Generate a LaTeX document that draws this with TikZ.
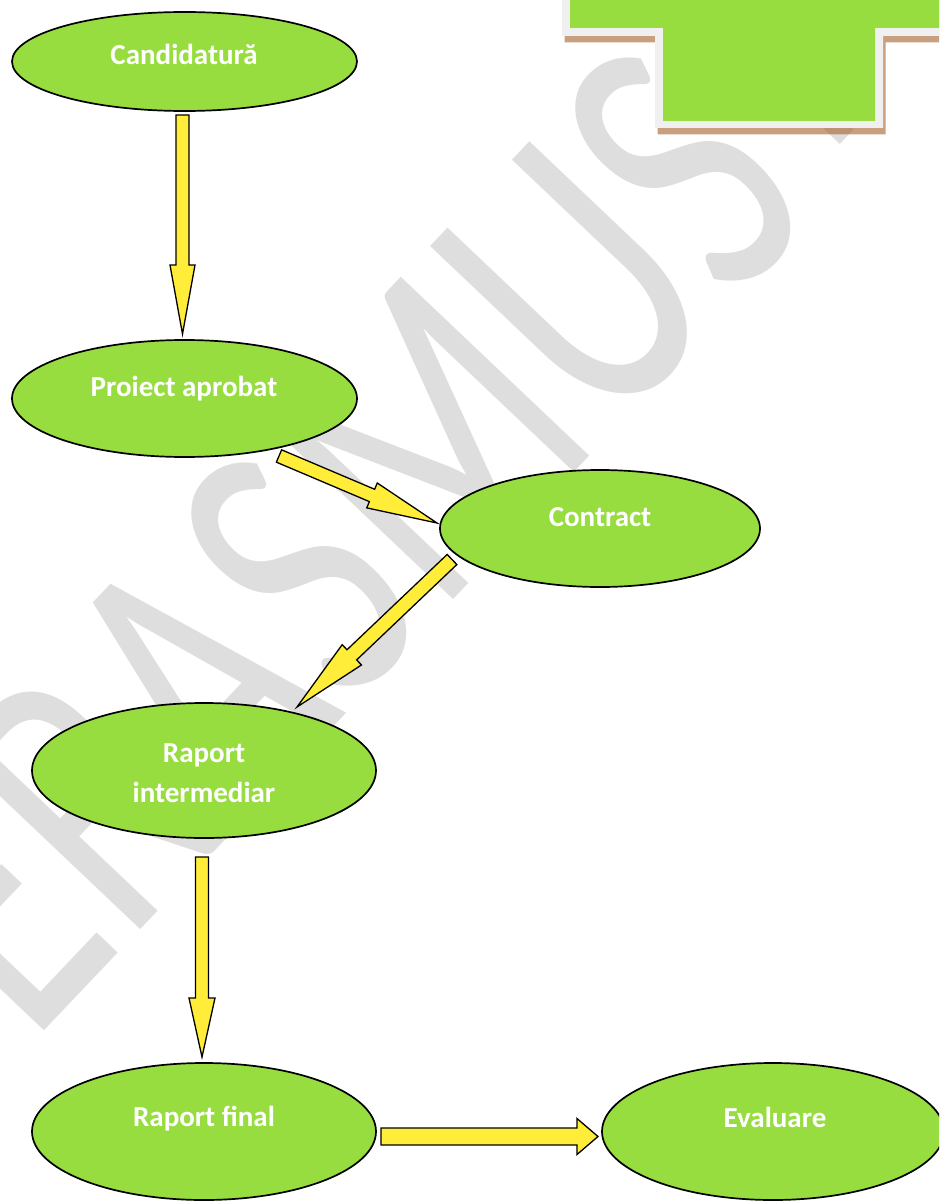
\documentclass[tikz,border=0pt]{standalone}
\usepackage{fontspec}
\setmainfont{Carlito}
\usetikzlibrary{calc,shapes.geometric}
\definecolor{ellgreen}{RGB}{152,221,64}
\definecolor{arryellow}{RGB}{255,237,58}
\definecolor{wmgray}{RGB}{222,222,222}
\definecolor{borderg}{RGB}{240,240,240}
\definecolor{shadowbr}{RGB}{165,97,43}
% tail, tip, shaft half width, head half width, head length
\newcommand{\blockarrow}[5]{%
  \coordinate (#1-base) at ($(#2)!#5pt!(#1)$);
  \draw[barrow] ($(#1)!#3pt!90:(#2)$) -- ($(#1-base)!#3pt!90:(#2)$) -- ($(#1-base)!#4pt!90:(#2)$) -- (#2)
     -- ($(#1-base)!#4pt!-90:(#2)$) -- ($(#1-base)!#3pt!-90:(#2)$) -- ($(#1)!#3pt!-90:(#2)$) -- cycle;}
\begin{document}
\begin{tikzpicture}[x=1pt,y=-1pt,
  ell/.style={draw=black, line width=1.7pt, fill=ellgreen, ellipse, inner sep=0pt},
  lbl/.style={text=white, font=\bfseries\fontsize{29}{40}\selectfont, anchor=base, inner sep=0pt},
  barrow/.style={draw=black, line width=1.3pt, fill=arryellow, line join=miter},
  wm/.style={text=wmgray, font=\fontsize{405}{405}\selectfont, inner sep=0pt}]
\useasboundingbox (0,0) rectangle (939,1201);
\clip (0,0) rectangle (939,1201);
\fill[white] (0,0) rectangle (939,1201);
% watermark
\node[wm, rotate=46.5, anchor=base west] (wm) at (30,1046) {\scalebox{0.706}[1]{ERASMUS+}};
% ellipses
\node[ell, minimum width=345pt, minimum height=99pt] (c1) at (184.5,61.5) {};
\node[ell, minimum width=345pt, minimum height=117pt] (c2) at (184.5,398.5) {};
\node[ell, minimum width=320pt, minimum height=117pt] (c3) at (600,528.5) {};
\node[ell, minimum width=344pt, minimum height=135pt] (c4) at (204,770.5) {};
\node[ell, minimum width=344pt, minimum height=137pt] (c5) at (204,1131.5) {};
\node[ell, minimum width=342pt, minimum height=137pt] (c6) at (773,1131.5) {};
% labels
\node[lbl] (t1) at (184,65) {Candidatură};
\node[lbl] (t2) at (184,396) {Proiect aprobat};
\node[lbl] (t3) at (600,526) {Contract};
\node[lbl] (t4a) at (204,762) {Raport};
\node[lbl] (t4b) at (204,802) {intermediar};
\node[lbl] (t5) at (204,1126) {Raport final};
\node[lbl] (t6) at (775,1127) {Evaluare};
% arrows
\coordinate (a1t) at (182.5,115); \coordinate (a1h) at (182.5,334);
\blockarrow{a1t}{a1h}{6.5}{12.5}{69}
\coordinate (a2t) at (279,456); \coordinate (a2h) at (437,523);
\blockarrow{a2t}{a2h}{6.7}{13.5}{70.6}
\coordinate (a3t) at (452,559.5); \coordinate (a3h) at (297,707);
\blockarrow{a3t}{a3h}{7}{14}{75.7}
\coordinate (a4t) at (202,857); \coordinate (a4h) at (202,1057);
\blockarrow{a4t}{a4h}{6.5}{13}{59}
\coordinate (a5t) at (381,1136.5); \coordinate (a5h) at (598,1136.5);
\blockarrow{a5t}{a5h}{8.5}{18}{21}
% top-right cross shape
\fill[shadowbr, opacity=0.6] (564.5,-10) -- (564.5,42.5) -- (657.5,42.5) -- (657.5,134.5) -- (885.5,134.5) -- (885.5,42.5) -- (950,42.5) -- (950,-10) -- cycle;
\fill[borderg] (562,-10) -- (562,36) -- (655,36) -- (655,128) -- (883,128) -- (883,36) -- (950,36) -- (950,-10) -- cycle;
\fill[ellgreen] (570,-10) -- (570,28) -- (663,28) -- (663,121) -- (875,121) -- (875,28) -- (950,28) -- (950,-10) -- cycle;
\end{tikzpicture}
\end{document}
